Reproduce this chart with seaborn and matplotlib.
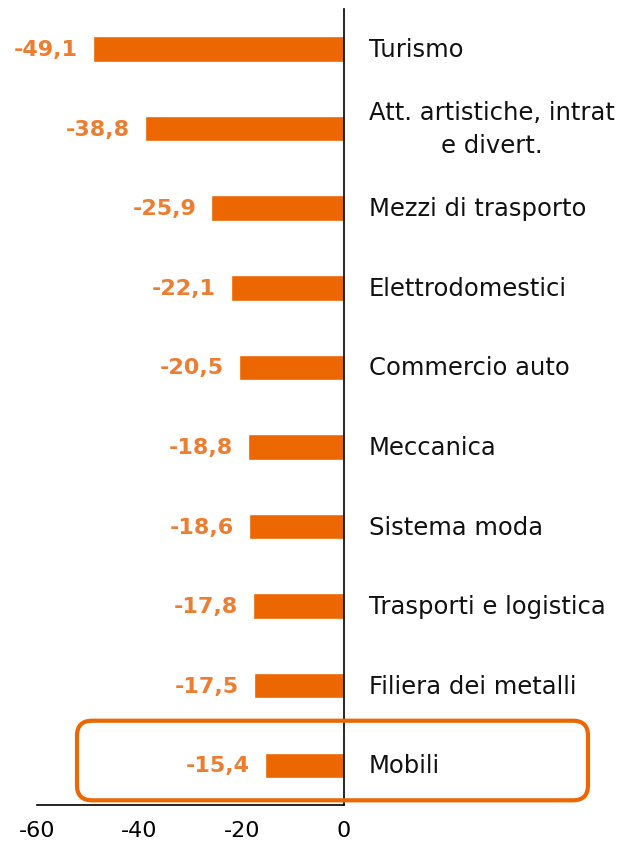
import matplotlib
matplotlib.use("Agg")
import matplotlib.pyplot as plt
import seaborn as sns
import pandas as pd
from matplotlib.patches import FancyBboxPatch

categories = ["Turismo", "Att. artistiche, intrat\ne divert.", "Mezzi di trasporto",
              "Elettrodomestici", "Commercio auto", "Meccanica", "Sistema moda",
              "Trasporti e logistica", "Filiera dei metalli", "Mobili"]
values = [-49.1, -38.8, -25.9, -22.1, -20.5, -18.8, -18.6, -17.8, -17.5, -15.4]
highlight = "Mobili"
x_ticks = [-60, -40, -20, 0]

bar_color = "#EC6602"
label_color = "#ED7D31"

df = pd.DataFrame({"settore": categories, "valore": values})

sns.set_style("white")
plt.rcParams["font.family"] = ["DejaVu Sans"]
plt.rcParams["axes.unicode_minus"] = False

fig = plt.figure(figsize=(6.17, 8.53), dpi=100)
ax = fig.add_axes([0.06, 0.055, 0.4975, 0.933])

sns.barplot(data=df, x="valore", y="settore", orient="h", color=bar_color,
            width=0.32, saturation=1, ax=ax)

ax.set_xlim(-60, 0)
ax.set_xticks(x_ticks)
ax.set_xlabel("")
ax.set_ylabel("")
ax.tick_params(axis="x", length=7, width=1.2, color="black", labelcolor="black",
               labelsize=16, pad=4)

# category names on the right of the zero line
ax.yaxis.tick_right()
ax.tick_params(axis="y", length=0, labelsize=17.5, pad=18, labelcolor="#111111")
for lbl in ax.get_yticklabels():
    lbl.set_multialignment("center")
    lbl.set_verticalalignment("center")
    lbl.set_linespacing(1.45)

for side in ["left", "top"]:
    ax.spines[side].set_visible(False)
for side in ["right", "bottom"]:
    ax.spines[side].set_color("black")
    ax.spines[side].set_linewidth(1.2)

ax.bar_label(ax.containers[0], labels=[f"{v:.1f}".replace(".", ",") for v in values],
             padding=11, color=label_color, fontsize=16, fontweight="bold")

# rounded box around the highlighted sector
idx = categories.index(highlight)
_, y_top = ax.transData.transform((0, idx - 0.56))
_, y_bot = ax.transData.transform((0, idx + 0.44))
inv = fig.dpi_scale_trans.inverted()
x0, y0 = inv.transform((77, y_bot))
x1, y1 = inv.transform((588, y_top))
box = FancyBboxPatch((x0, y0), x1 - x0, y1 - y0,
                     boxstyle="round,pad=0,rounding_size=0.15",
                     transform=fig.dpi_scale_trans, fill=False,
                     edgecolor=bar_color, linewidth=3, clip_on=False)
fig.patches.append(box)

fig.savefig("out.png", dpi=100)
